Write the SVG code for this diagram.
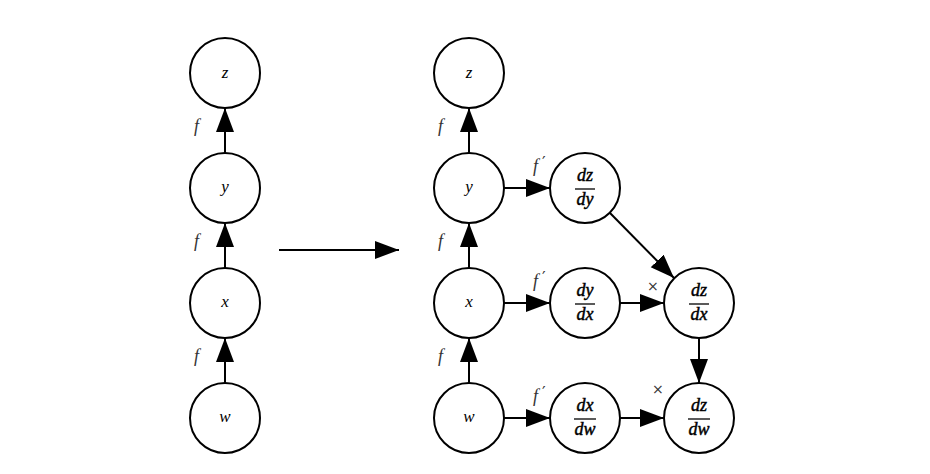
<svg xmlns="http://www.w3.org/2000/svg" width="930" height="474" viewBox="0 0 930 474">
<style>
.n{fill:#fff;stroke:#000;stroke-width:2}
.c{stroke:#000;stroke-width:2;fill:none}
.t{font-family:"Liberation Serif",serif;font-style:italic;font-size:17px;text-anchor:middle}
.fr{font-family:"Liberation Serif",serif;font-style:italic;font-size:18px;text-anchor:middle;stroke:#000;stroke-width:0.45}
.l{font-family:"Liberation Serif",serif;font-style:italic;font-size:18px;fill:#333}
.p{font-family:"DejaVu Serif",serif;font-size:16px;fill:#333}
.x{font-family:"DejaVu Sans",sans-serif;font-size:14px;fill:#333}
.bar{stroke:#000;stroke-width:1.3}
</style>
<defs>
<marker id="a" markerUnits="userSpaceOnUse" markerWidth="26" markerHeight="20" refX="24" refY="9" orient="auto">
<path d="M0,0 L24,9 L0,18 Z" fill="#000"/>
</marker>
</defs>
<rect width="930" height="474" fill="#fff"/>
<g id="connectors">
<line class="c" x1="225" y1="153" x2="225" y2="108" marker-end="url(#a)"/>
<line class="c" x1="225" y1="268" x2="225" y2="223" marker-end="url(#a)"/>
<line class="c" x1="225" y1="383" x2="225" y2="338" marker-end="url(#a)"/>
<line class="c" x1="279" y1="250" x2="399" y2="250" marker-end="url(#a)"/>
<line class="c" x1="469" y1="153" x2="469" y2="108" marker-end="url(#a)"/>
<line class="c" x1="469" y1="268" x2="469" y2="223" marker-end="url(#a)"/>
<line class="c" x1="469" y1="383" x2="469" y2="338" marker-end="url(#a)"/>
<line class="c" x1="504" y1="188" x2="550" y2="188" marker-end="url(#a)"/>
<line class="c" x1="504" y1="303" x2="550" y2="303" marker-end="url(#a)"/>
<line class="c" x1="504" y1="418" x2="550" y2="418" marker-end="url(#a)"/>
<line class="c" x1="620" y1="303" x2="664" y2="303" marker-end="url(#a)"/>
<line class="c" x1="620" y1="418" x2="664" y2="418" marker-end="url(#a)"/>
<line class="c" x1="610" y1="213" x2="674" y2="278" marker-end="url(#a)"/>
<line class="c" x1="699" y1="338" x2="699" y2="383" marker-end="url(#a)"/>
<text class="l" x="194" y="132">f</text>
<text class="l" x="194" y="247">f</text>
<text class="l" x="194" y="362">f</text>
<text class="l" x="438" y="132">f</text>
<text class="l" x="438" y="247">f</text>
<text class="l" x="438" y="362">f</text>
<text class="l" x="533" y="172">f</text><text class="p" x="542" y="168">′</text>
<text class="l" x="533" y="287">f</text><text class="p" x="542" y="283">′</text>
<text class="l" x="533" y="402">f</text><text class="p" x="542" y="398">′</text>
<text class="x" x="647" y="291">×</text>
<text class="x" x="652" y="394">×</text>
</g>
<g id="z1"><circle class="n" cx="225" cy="73" r="35"/><text class="t" x="225" y="78">z</text></g>
<g id="y1"><circle class="n" cx="225" cy="188" r="35"/><text class="t" x="225" y="192">y</text></g>
<g id="x1"><circle class="n" cx="225" cy="303" r="35"/><text class="t" x="225" y="307">x</text></g>
<g id="w1"><circle class="n" cx="225" cy="418" r="35"/><text class="t" x="225" y="422">w</text></g>
<g id="z2"><circle class="n" cx="469" cy="73" r="35"/><text class="t" x="469" y="78">z</text></g>
<g id="y2"><circle class="n" cx="469" cy="188" r="35"/><text class="t" x="469" y="192">y</text></g>
<g id="x2"><circle class="n" cx="469" cy="303" r="35"/><text class="t" x="469" y="307">x</text></g>
<g id="w2"><circle class="n" cx="469" cy="418" r="35"/><text class="t" x="469" y="422">w</text></g>
<g id="dzdy"><circle class="n" cx="585" cy="188" r="35"/><text class="fr" x="585" y="181">dz</text><line class="bar" x1="575" y1="189" x2="595" y2="189"/><text class="fr" x="585" y="205">dy</text></g>
<g id="dydx"><circle class="n" cx="585" cy="303" r="35"/><text class="fr" x="585" y="296">dy</text><line class="bar" x1="575" y1="304" x2="595" y2="304"/><text class="fr" x="585" y="320">dx</text></g>
<g id="dxdw"><circle class="n" cx="585" cy="418" r="35"/><text class="fr" x="585" y="411">dx</text><line class="bar" x1="574" y1="419" x2="596" y2="419"/><text class="fr" x="585" y="435">dw</text></g>
<g id="dzdx"><circle class="n" cx="699" cy="303" r="35"/><text class="fr" x="699" y="296">dz</text><line class="bar" x1="689" y1="304" x2="709" y2="304"/><text class="fr" x="699" y="320">dx</text></g>
<g id="dzdw"><circle class="n" cx="699" cy="418" r="35"/><text class="fr" x="699" y="411">dz</text><line class="bar" x1="688" y1="419" x2="710" y2="419"/><text class="fr" x="699" y="435">dw</text></g>
</svg>
